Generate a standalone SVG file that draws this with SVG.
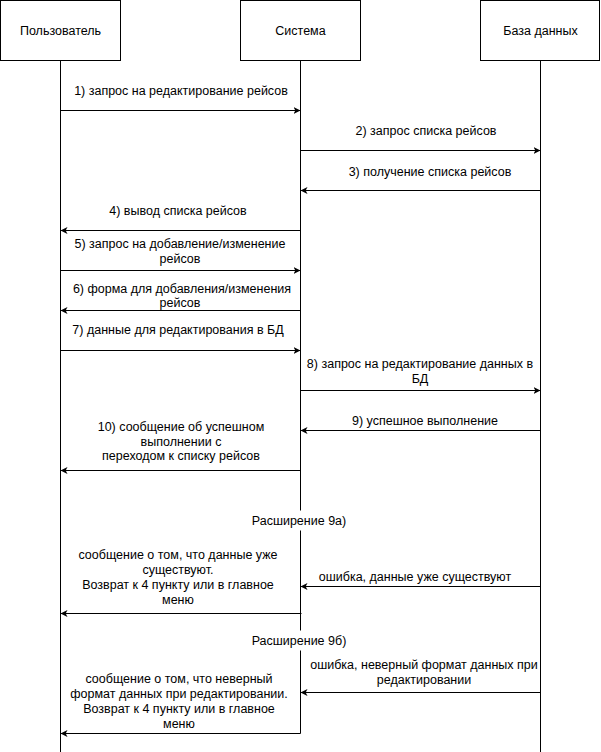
<svg xmlns="http://www.w3.org/2000/svg" width="601" height="752" viewBox="0 0 601 752">
<style>
.box{fill:#fff;stroke:#000;stroke-width:1}
.ll{stroke:#000;stroke-width:1;fill:none}
.msg{stroke:#000;stroke-width:1;fill:none;marker-end:url(#ah)}
text{font-family:"Liberation Sans",Arial,Helvetica,sans-serif;font-size:12.5px;fill:#000;text-anchor:middle}
.bg{fill:#fff;stroke:none}
</style>
<defs>
<marker id="ah" markerUnits="userSpaceOnUse" markerWidth="10" markerHeight="10" refX="7" refY="3.5" orient="auto">
<path d="M0,0 L7,3.5 L0,7 L1.8,3.5 Z" fill="#000"/>
</marker>
</defs>
<g id="user">
<rect class="box" x="0.5" y="0.5" width="120" height="60"/>
<text x="60.5" y="35">Пользователь</text>
<line class="ll" x1="60.5" y1="60.5" x2="60.5" y2="752"/>
</g>
<g id="system">
<rect class="box" x="240.5" y="0.5" width="120" height="60"/>
<text x="300.5" y="35">Система</text>
<line class="ll" x1="300.5" y1="60.5" x2="300.5" y2="733.5"/>
</g>
<g id="db">
<rect class="box" x="480.5" y="0.5" width="119" height="60"/>
<text x="540.5" y="35">База данных</text>
<line class="ll" x1="540.5" y1="60.5" x2="540.5" y2="752"/>
</g>
<g id="connectors">
<line class="msg" x1="60.5" y1="110.5" x2="300.5" y2="110.5"/>
<line class="msg" x1="300.5" y1="150.5" x2="540.5" y2="150.5"/>
<line class="msg" x1="540.5" y1="190.5" x2="300.5" y2="190.5"/>
<line class="msg" x1="300.5" y1="230.5" x2="60.5" y2="230.5"/>
<line class="msg" x1="60.5" y1="270.5" x2="300.5" y2="270.5"/>
<line class="msg" x1="300.5" y1="310.5" x2="60.5" y2="310.5"/>
<line class="msg" x1="60.5" y1="350.5" x2="300.5" y2="350.5"/>
<line class="msg" x1="300.5" y1="390.5" x2="540.5" y2="390.5"/>
<line class="msg" x1="540.5" y1="430.5" x2="300.5" y2="430.5"/>
<line class="msg" x1="300.5" y1="470.5" x2="60.5" y2="470.5"/>
<line class="msg" x1="540.5" y1="586.5" x2="300.5" y2="586.5"/>
<line class="msg" x1="301.5" y1="613.5" x2="60.5" y2="613.5"/>
<line class="msg" x1="540.5" y1="692.5" x2="300.5" y2="692.5"/>
<line class="msg" x1="300.5" y1="733.5" x2="60.5" y2="733.5"/>
</g>
<g id="labels">
<text x="181" y="95">1) запрос на редактирование рейсов</text>
<text x="426" y="135">2) запрос списка рейсов</text>
<text x="430" y="175.5">3) получение списка рейсов</text>
<text x="178" y="215">4) вывод списка рейсов</text>
<text x="180" y="248">5) запрос на добавление/изменение</text>
<text x="180" y="263">рейсов</text>
<text x="182" y="293">6) форма для добавления/изменения</text>
<text x="180" y="307">рейсов</text>
<text x="178" y="334">7) данные для редактирования в БД</text>
<text x="420" y="368">8) запрос на редактирование данных в</text>
<text x="420" y="383">БД</text>
<text x="425" y="425">9) успешное выполнение</text>
<text x="181" y="431">10) сообщение об успешном</text>
<text x="181" y="446">выполнении с</text>
<text x="181" y="460">переходом к списку рейсов</text>
</g>
<g id="ext9a">
<rect class="bg" x="250" y="510.5" width="100" height="20"/>
<text x="299" y="525">Расширение 9а)</text>
<text x="415" y="581">ошибка, данные уже существуют</text>
<text x="178" y="559">сообщение о том, что данные уже</text>
<text x="178" y="574">существуют.</text>
<text x="178" y="589">Возврат к 4 пункту или в главное</text>
<text x="178" y="604">меню</text>
</g>
<g id="ext9b">
<rect class="bg" x="250" y="630.5" width="100" height="20"/>
<text x="299" y="645">Расширение 9б)</text>
<text x="424" y="669">ошибка, неверный формат данных при</text>
<text x="424" y="684">редактировании</text>
<text x="179" y="683">сообщение о том, что неверный</text>
<text x="179" y="698">формат данных при редактировании.</text>
<text x="179" y="713">Возврат к 4 пункту или в главное</text>
<text x="179" y="728">меню</text>
</g>
</svg>
